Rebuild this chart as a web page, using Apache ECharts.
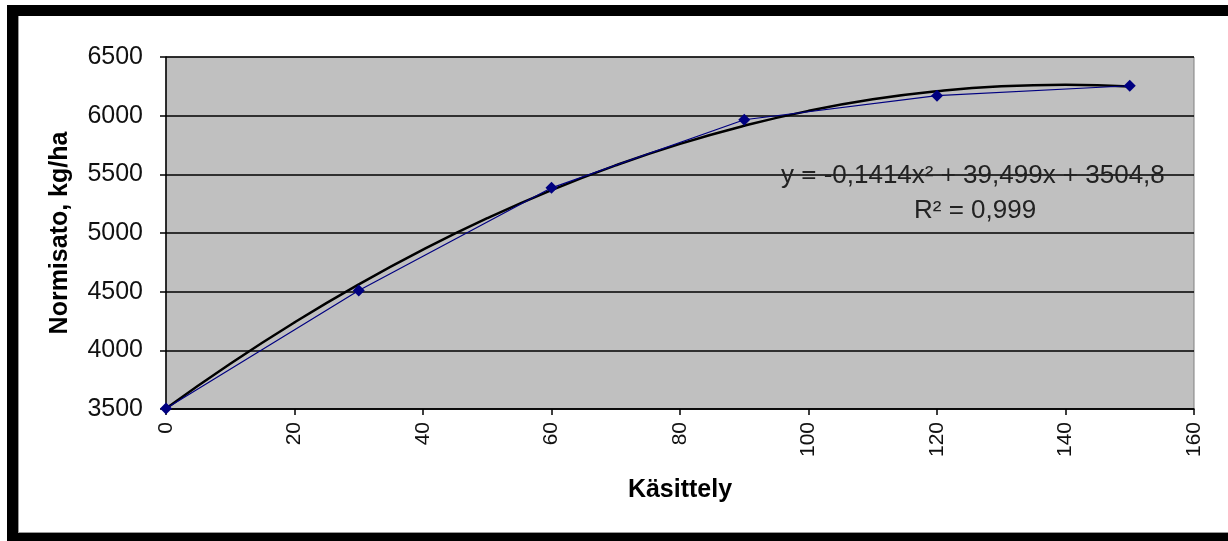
<!DOCTYPE html>
<html>
<head>
<meta charset="utf-8">
<script src="https://cdn.jsdelivr.net/npm/echarts@6/dist/echarts.min.js"></script>
<style>
html,body{margin:0;padding:0;background:#fff;}
#frame{position:absolute;left:7px;top:5px;width:1221px;height:536px;background:#000;}
#inner{position:absolute;left:18px;top:16px;width:1210px;height:517px;background:#fff;border-left:1px solid #999;border-bottom:1px solid #999;box-sizing:border-box;}
#chart{position:absolute;left:0;top:0;width:1228px;height:541px;}
</style>
</head>
<body>
<div id="frame"></div>
<div id="inner"></div>
<div id="chart"></div>
<script>
const xTicks = [0, 20, 40, 60, 80, 100, 120, 140, 160];
const yTicks = [3500, 4000, 4500, 5000, 5500, 6000, 6500];
const kasittely = [0, 30, 60, 90, 120, 150];
const normisato = [3505, 4510, 5385, 5965, 6170, 6255];
const trendX = [0, 10, 20, 30, 40, 50, 60, 70, 80, 90, 100, 110, 120, 130, 140, 150];
const trendY = [3505, 3886, 4238, 4562, 4858, 5126, 5366, 5577, 5760, 5914, 6041, 6139, 6208, 6250, 6263, 6248];
const equationText = 'y = -0,1414x² + 39,499x + 3504,8';
const r2Text = 'R² = 0,999';

const chart = echarts.init(document.getElementById('chart'), null, {renderer: 'canvas'});
const font = '"Liberation Sans", Arial, sans-serif';
chart.setOption({
  animation: false,
  backgroundColor: 'transparent',
  grid: {
    left: 166, right: 34, top: 57, bottom: 132,
    show: true, backgroundColor: '#C0C0C0', borderColor: '#808080', borderWidth: 1
  },
  xAxis: {
    type: 'value',
    min: xTicks[0], max: xTicks[xTicks.length - 1], interval: xTicks[1] - xTicks[0],
    name: 'Käsittely', nameLocation: 'middle', nameGap: 69,
    nameTextStyle: {fontFamily: font, fontSize: 25, fontWeight: 'bold', color: '#000'},
    axisLine: {show: true, lineStyle: {color: '#000', width: 1.5}},
    axisTick: {show: true, inside: false, length: 6, lineStyle: {color: '#000', width: 1.5}},
    axisLabel: {rotate: 90, margin: 13, fontFamily: font, fontSize: 21, color: '#111',
                formatter: v => String(v)},
    splitLine: {show: false}
  },
  yAxis: {
    type: 'value',
    min: yTicks[0], max: yTicks[yTicks.length - 1], interval: yTicks[1] - yTicks[0],
    name: 'Normisato, kg/ha', nameLocation: 'middle', nameGap: 93, nameRotate: 90,
    nameTextStyle: {fontFamily: font, fontSize: 25, fontWeight: 'bold', color: '#000'},
    axisLine: {show: true, lineStyle: {color: '#000', width: 1.5}},
    axisTick: {show: true, inside: false, length: 6, lineStyle: {color: '#000', width: 1.5}},
    axisLabel: {margin: 23, fontFamily: font, fontSize: 25, color: '#111',
                formatter: v => String(v)},
    splitLine: {show: true, lineStyle: {color: '#000', width: 1.5}}
  },
  series: [
    {
      type: 'line',
      data: kasittely.map((x, i) => [x, normisato[i]]),
      symbol: 'diamond', symbolSize: 12,
      itemStyle: {color: '#000080'},
      lineStyle: {color: '#000080', width: 1.2},
      z: 3
    },
    {
      type: 'line',
      data: trendX.map((x, i) => [x, trendY[i]]),
      smooth: true, showSymbol: false, symbol: 'none',
      lineStyle: {color: '#000', width: 2.5},
      z: 2
    }
  ],
  graphic: [
    {type: 'text', left: 781, top: 163, z: 10,
     style: {text: equationText, fontFamily: font, fontSize: 26, fill: '#222'}},
    {type: 'text', left: 914, top: 198, z: 10,
     style: {text: r2Text, fontFamily: font, fontSize: 26, fill: '#222'}}
  ]
});
</script>
</body>
</html>
